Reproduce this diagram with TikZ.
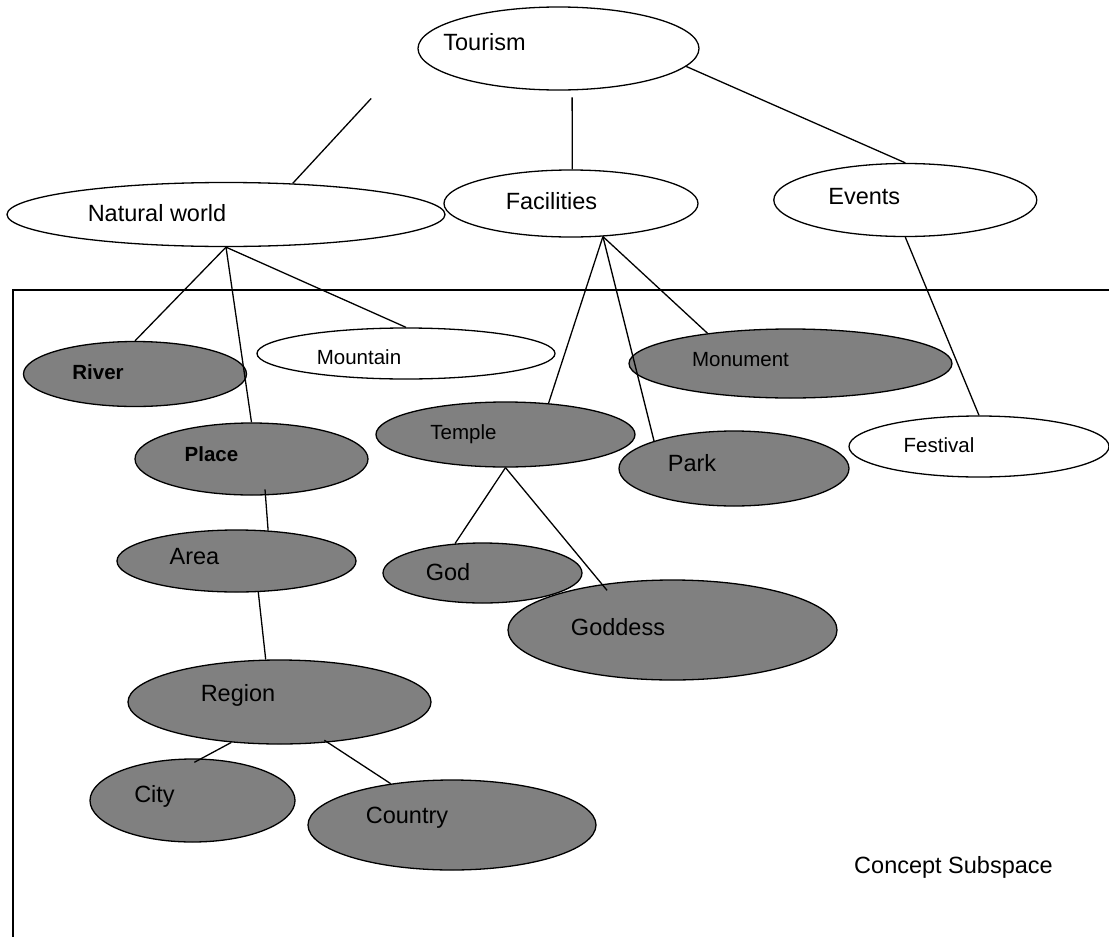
\documentclass[tikz,border=0pt]{standalone}
\usepackage{fontspec}
\setmainfont{Liberation Sans}
\usetikzlibrary{shapes.geometric}

\begin{document}
\begin{tikzpicture}[x=1pt,y=-1pt,
every node/.style={inner sep=0pt},
concept/.style={ellipse,draw,line width=1.3pt,fill=white},
shaded/.style={concept,fill=gray},
bigtxt/.style={font=\fontsize{23.5}{28}\selectfont,text height=16.8pt,text depth=0pt},
smalltxt/.style={font=\fontsize{20.5}{25}\selectfont,text height=14.7pt,text depth=0pt},
link/.style={line width=1.3pt}]

\useasboundingbox (0,0) rectangle (1109,937);

\draw[link] (13,937) -- (13,290) -- (1109,290);

\node[concept,minimum width=281,minimum height=83,label={[bigtxt,xshift=-74,yshift=6.5]center:Tourism}] (tourism) at (558.5,48.5) {};
\node[concept,minimum width=438,minimum height=64,label={[bigtxt,xshift=-69,yshift=1]center:Natural world}] (natural) at (226,214.5) {};
\node[concept,minimum width=254,minimum height=67,label={[bigtxt,xshift=-19.5,yshift=2.5]center:Facilities}] (facilities) at (571,203.5) {};
\node[concept,minimum width=263,minimum height=73,label={[bigtxt,xshift=-41,yshift=4.3]center:Events}] (events) at (905.3,200) {};

\node[shaded,minimum width=223,minimum height=65,label={[smalltxt,font=\fontsize{20.5}{25}\bfseries,xshift=-37,yshift=2]center:River}] (river) at (135,374) {};
\node[concept,minimum width=298,minimum height=51,label={[smalltxt,xshift=-47,yshift=-3.5]center:Mountain}] (mountain) at (406,353.5) {};
\node[shaded,minimum width=233,minimum height=72,label={[smalltxt,font=\fontsize{20.5}{25}\bfseries,xshift=-40,yshift=4.5]center:Place}] (place) at (251.5,459) {};
\node[shaded,minimum width=239,minimum height=62,label={[bigtxt,xshift=-42,yshift=5]center:Area}] (area) at (236.5,561) {};
\node[shaded,minimum width=303,minimum height=84,label={[bigtxt,xshift=-41.5,yshift=8.7]center:Region}] (region) at (279.5,702) {};
\node[shaded,minimum width=205,minimum height=83,label={[bigtxt,xshift=-38,yshift=6.7]center:City}] (city) at (192.5,800.5) {};
\node[shaded,minimum width=288,minimum height=90,label={[bigtxt,xshift=-45,yshift=10.3]center:Country}] (country) at (452,825) {};

\node[shaded,minimum width=323,minimum height=69,label={[smalltxt,xshift=-50,yshift=4.7]center:Monument}] (monument) at (790.5,363.5) {};
\node[shaded,minimum width=259,minimum height=65,label={[smalltxt,xshift=-42,yshift=2.7]center:Temple}] (temple) at (505.5,434.5) {};
\node[shaded,minimum width=230,minimum height=75,label={[bigtxt,xshift=-42,yshift=5.2]center:Park}] (park) at (734,468.5) {};
\node[concept,minimum width=260,minimum height=61,label={[smalltxt,xshift=-40,yshift=1.5]center:Festival}] (festival) at (979,446.5) {};
\node[shaded,minimum width=199,minimum height=60,label={[bigtxt,xshift=-34.5,yshift=1]center:God}] (god) at (482.5,573) {};
\node[shaded,minimum width=329,minimum height=100,label={[bigtxt,xshift=-54.5,yshift=3]center:Goddess}] (goddess) at (672.5,630) {};

\node[bigtxt] (subspace) at (953.5,865) {Concept Subspace};

\draw[link,shorten <=68pt] (tourism.west) -- (natural.25);
\draw[link,shorten <=7pt] (tourism.-72) -- (facilities.88);
\draw[link] (tourism.-8) -- (events.north);

\draw[link] (natural.south) -- (river.north);
\draw[link] (natural.south) -- (place.north);
\draw[link] (natural.south) -- (mountain.north);
\draw[link,shorten <=-6pt] (place.-69) -- (area.44);
\draw[link] (area.-55) -- (region.108);
\draw[link,shorten >=-8pt] (region.-140) -- (city.78);
\draw[link,shorten <=-4pt] (region.-40) -- (country.146);

\draw[link] (facilities.-46) -- (temple.36);
\draw[link] (facilities.-46) -- (park.161);
\draw[link] (facilities.-46) -- (monument.160);
\draw[link] (temple.south) -- (god.133);
\draw[link,shorten >=-8pt] (temple.south) -- (goddess.147);

\draw[link] (events.south) -- (festival.north);

\end{tikzpicture}
\end{document}
